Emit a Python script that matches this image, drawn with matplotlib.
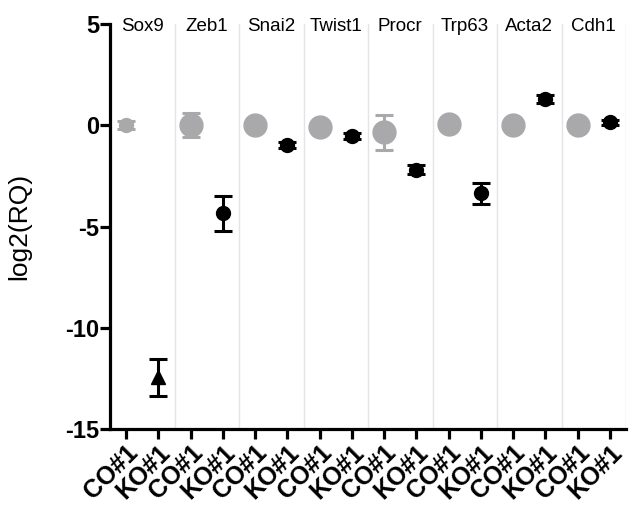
import numpy as np
import matplotlib
matplotlib.use('Agg')
import matplotlib.pyplot as plt

# data
genes = ['Sox9', 'Zeb1', 'Snai2', 'Twist1', 'Procr', 'Trp63', 'Acta2', 'Cdh1']
co_mean = [0.0, 0.0, 0.0, -0.1, -0.35, 0.05, 0.0, 0.0]
co_err = [0.2, 0.6, 0.1, 0.1, 0.85, 0.3, 0.1, 0.1]
co_size = [10, 16.5, 16.5, 16.5, 16.5, 16.5, 16.5, 16.5]
ko_mean = [-12.45, -4.35, -0.98, -0.55, -2.2, -3.37, 1.3, 0.15]
ko_err = [0.9, 0.87, 0.15, 0.15, 0.22, 0.5, 0.18, 0.12]
ko_marker = ['^', 'o', 'o', 'o', 'o', 'o', 'o', 'o']
tick_labels = ['CO#1', 'KO#1'] * len(genes)

plt.rcParams['font.family'] = ['Liberation Sans', 'DejaVu Sans']
plt.rcParams['axes.unicode_minus'] = False

fig = plt.figure(figsize=(6.29, 5.07), dpi=100)
ax = fig.add_axes([110/629, 78/507, 516/629, 405/507])

gray = '#a9a9ab'
for i, g in enumerate(genes):
    xc = 2*i
    xk = 2*i + 1
    ax.errorbar(xc, co_mean[i], yerr=co_err[i], fmt='o', color=gray,
                markersize=co_size[i], elinewidth=2.2, capsize=6.5, capthick=2.2, zorder=3)
    ax.errorbar(xk, ko_mean[i], yerr=ko_err[i], fmt=ko_marker[i], color='black',
                markersize=10, elinewidth=2.2, capsize=6.5, capthick=2.2, zorder=3)
    ax.text(2*i + 0.5, 4.88, g, ha='center', va='center', fontsize=13.5)
    if i > 0:
        ax.axvline(2*i - 0.5, color='#e4e4e4', lw=1, zorder=0)
ax.axvline(15.5, color='#e4e4e4', lw=1, zorder=0)

ax.set_xlim(-0.5, 15.5)
ax.set_ylim(-15, 5)
ax.set_yticks([5, 0, -5, -10, -15])
ax.set_xticks(np.arange(len(tick_labels)))
ax.set_xticklabels(tick_labels, rotation=45, ha='right', rotation_mode='anchor',
                   fontsize=18, fontweight='bold')
for lab in ax.get_yticklabels():
    lab.set_fontweight('bold')
    lab.set_fontsize(17)
ax.set_ylabel('log2(RQ)', fontsize=19, labelpad=24)

for s in ['top', 'right']:
    ax.spines[s].set_visible(False)
for s in ['left', 'bottom']:
    ax.spines[s].set_linewidth(2.3)
ax.tick_params(width=2.3, length=7, pad=1)

fig.savefig('out.png', dpi=100)
